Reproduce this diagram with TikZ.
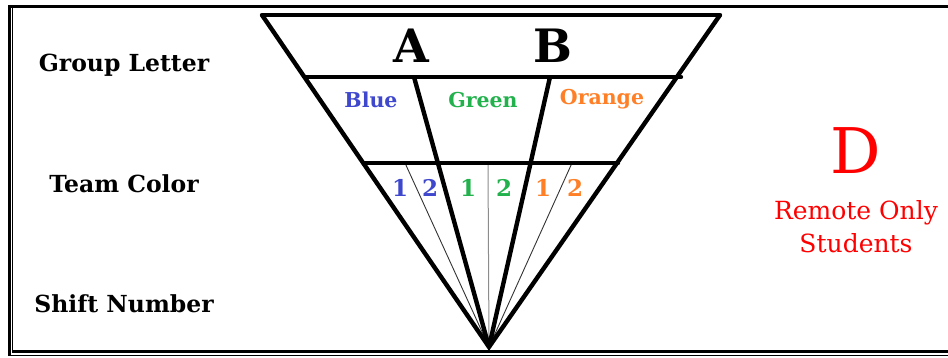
\documentclass[tikz,border=0pt]{standalone}
\usepackage{fontspec}
\setmainfont{DejaVu Serif}
\definecolor{pblue}{HTML}{3F48CC}
\definecolor{pgreen}{HTML}{22B14C}
\definecolor{porange}{HTML}{FF7F27}
\definecolor{pred}{HTML}{FF0000}
\tikzset{
  heavy/.style={line width=4.4pt, line cap=round, line join=miter},
  hair/.style={line width=0.9pt, black!80},
  framethick/.style={line width=3.4pt},
  framethin/.style={line width=1.3pt},
  rowlabel/.style={anchor=base, inner sep=0pt, font=\fontsize{23.5}{26}\selectfont\bfseries},
  letter/.style={anchor=base, inner sep=0pt, font=\fontsize{46}{50}\selectfont\bfseries},
  team/.style={anchor=base, inner sep=0pt, font=\fontsize{20.5}{24}\selectfont\bfseries},
  shiftnum/.style={anchor=base, inner sep=0pt, font=\fontsize{23}{26}\selectfont\bfseries},
}
\begin{document}
\begin{tikzpicture}[x=1pt,y=-1pt]
\useasboundingbox (0,0) rectangle (948,358);
% frame
\draw[framethick] (9.5,6.5) -- (948,6.5);
\draw[framethick] (9.5,5) -- (9.5,355.8);
\draw[framethin] (12.8,8) -- (12.8,351);
\draw[framethick] (12,351.5) -- (948,351.5);
\draw[framethin] (8,355.2) -- (948,355.2);
% funnel coordinates
\coordinate (tl) at (262,15);
\coordinate (tr) at (720,15);
\coordinate (apex) at (489,347);
\coordinate (l2) at (305,77);
\coordinate (r2) at (681,77);
\coordinate (l3) at (365,163);
\coordinate (r3) at (618,163);
\coordinate (a2) at (414,77);
\coordinate (b2) at (550,77);
\coordinate (t1) at (405,163);
\coordinate (t2) at (488,163);
\coordinate (t3) at (572,163);
% thin shift dividers
\draw[hair] (t1) -- (apex);
\draw[line width=1pt, black!45] (t2) -- (apex);
\draw[hair] (t3) -- (apex);
% heavy outline
\draw[heavy] (tl) -- (tr);
\draw[heavy, line cap=butt] (tl) -- (apex) -- (tr);
\draw[heavy] (l2) -- (r2);
\draw[heavy] (l3) -- (r3);
\draw[heavy, line cap=butt] (a2) -- (apex);
\draw[heavy, line cap=butt] (b2) -- (apex);
% row labels
\node[rowlabel] (gl) at (124,72) {Group Letter};
\node[rowlabel] (tc) at (124,193) {Team Color};
\node[rowlabel] (sn) at (124,312) {Shift Number};
% group letters
\node[letter] (A) at (411,63) {A};
\node[letter] (B) at (553,63) {B};
% team colours
\node[team, text=pblue] (blue) at (371,108) {Blue};
\node[team, text=pgreen] (green) at (483,108) {Green};
\node[team, text=porange] (orange) at (602,105) {Orange};
% shift numbers
\node[shiftnum, text=pblue] (b1) at (400,197) {1};
\node[shiftnum, text=pblue] (b2n) at (430,197) {2};
\node[shiftnum, text=pgreen] (g1) at (468,197) {1};
\node[shiftnum, text=pgreen] (g2) at (504,197) {2};
\node[shiftnum, text=porange] (o1) at (543,197) {1};
\node[shiftnum, text=porange] (o2) at (575,197) {2};
% remote
\node[anchor=base, inner sep=0pt, text=pred, font=\fontsize{63}{70}\selectfont] (D) at (856,174) {D};
\node[anchor=base, inner sep=0pt, text=pred, font=\fontsize{25}{30}\selectfont] (rem) at (856,220) {Remote Only};
\node[anchor=base, inner sep=0pt, text=pred, font=\fontsize{25}{30}\selectfont] (stu) at (856,253) {Students};
\end{tikzpicture}
\end{document}
